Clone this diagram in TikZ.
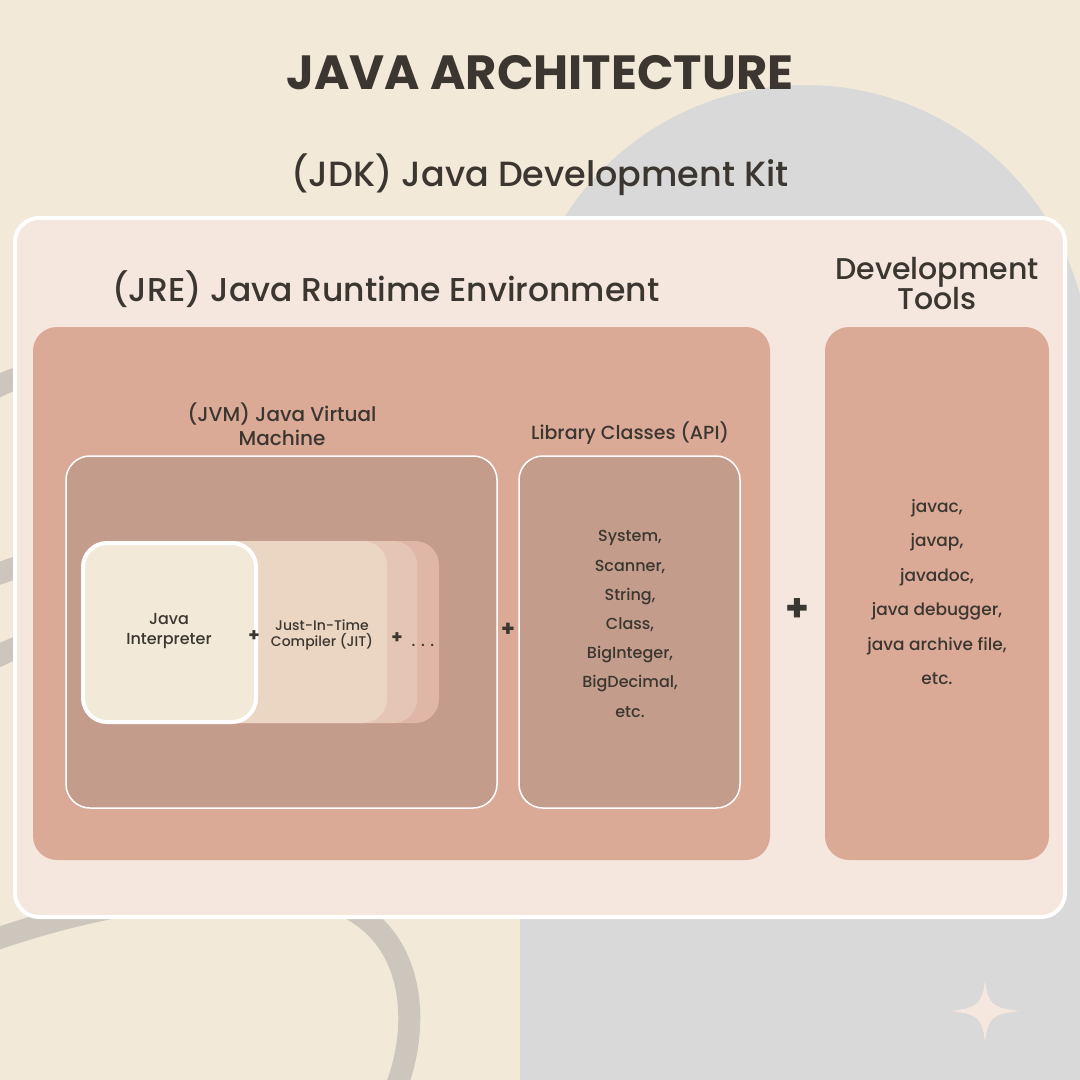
\documentclass[tikz,border=0pt]{standalone}
\usepackage{fontspec}
\setmainfont{Poppins Medium}[BoldFont=Poppins Bold]
\definecolor{cream}{HTML}{F2E9D8}
\definecolor{greyb}{HTML}{D9D9D9}
\definecolor{strk}{HTML}{CCC6BC}
\definecolor{jdk}{HTML}{F5E6DE}
\definecolor{jre}{HTML}{DBAA96}
\definecolor{jvm}{HTML}{C49C8B}
\definecolor{txt}{HTML}{3B3630}
\begin{document}
\begin{tikzpicture}[x=1pt,y=-1pt,
  box/.style={rounded corners=24pt},
  lab/.style={text=txt,align=center,font=\fontsize{#1}{1.2\dimexpr#1pt}\selectfont},
  plus/.style={text=txt,font=\bfseries\fontsize{#1}{#1}\selectfont}]
\useasboundingbox (0,0) rectangle (1080,1080);
\fill[cream] (0,0) rectangle (1080,1080);
% grey arch
\fill[greyb] (520,1080) -- (520,370) arc[start angle=180,end angle=360,radius=285] -- (1090,370) -- (1090,1080) -- cycle;
% strokes left
\draw[strk,line width=22pt] (-20,395) .. controls (10,380) and (20,375) .. (40,375);
\draw[strk,line width=22pt] (-20,580) .. controls (10,570) and (20,565) .. (40,562);
\draw[strk,line width=22pt] (-20,665) .. controls (10,650) and (20,645) .. (40,640);
\draw[strk,line width=22pt] (-20,945) .. controls (100,900) and (250,880) .. (330,900) .. controls (420,930) and (420,1030) .. (395,1090);
% sparkle
\fill[jdk] (985,980) .. controls (988,1005) and (993,1008) .. (1020,1011) .. controls (993,1014) and (988,1017) .. (985,1042) .. controls (982,1017) and (977,1014) .. (950,1011) .. controls (977,1008) and (982,1005) .. (985,980) -- cycle;
% titles
\node[text=txt,font=\bfseries\fontsize{48}{56}\selectfont] (title) at (540,73) {JAVA ARCHITECTURE};
\node[lab=35] (jdkt) at (540,175) {(JDK) Java Development Kit};
% boxes
\draw[box,fill=jdk,draw=white,line width=4pt] (15,218) rectangle (1065,917);
\node[lab=33] (jret) at (386,289) {(JRE) Java Runtime Environment};
\node[lab=30] (devt) at (937,284) {Development\\[-6pt]Tools};
\fill[box,jre] (33,327) rectangle (770,860);
\fill[box,jre] (825,327) rectangle (1049,860);
\draw[box,fill=jvm,draw=white,line width=1.5pt] (66,456) rectangle (497,808);
\draw[box,fill=jvm,draw=white,line width=1.5pt] (519,456) rectangle (740,808);
\node[lab=20] (jvmt) at (282,424) {(JVM) Java Virtual\\Machine};
\node[lab=19] (libt) at (630,433) {Library Classes (API)};
% stack
\fill[box,fill=jre!85!white] (235,541) rectangle (439,723);
\fill[box,fill=jre!55!cream] (215,541) rectangle (417,723);
\fill[box,fill=jre!30!cream] (195,541) rectangle (387,723);
\draw[box,fill=cream,draw=white,line width=4pt] (83,543) rectangle (256,722);
\node[lab=16] (interp) at (169,631) {Java\\Interpreter};
\node[lab=14] (jit) at (322,635) {Just-In-Time\\Compiler (JIT)};
\node[plus=18] (p1) at (254,636) {+};
\node[plus=18] (p2) at (397,638) {+};
\node[lab=16] (dots) at (423,645) {. . .};
\node[plus=22] (p3) at (508,630) {+};
\node[plus=38] (p4) at (797,610) {+};
\node[lab=16,align=center] (lib) at (630,624) {System,\\[10pt]Scanner,\\[10pt]String,\\[10pt]Class,\\[10pt]BigInteger,\\[10pt]BigDecimal,\\[10pt]etc.};
\node[lab=17,align=center] (dev) at (937,592) {javac,\\[14pt]javap,\\[14pt]javadoc,\\[14pt]java debugger,\\[14pt]java archive file,\\[14pt]etc.};
\end{tikzpicture}
\end{document}
